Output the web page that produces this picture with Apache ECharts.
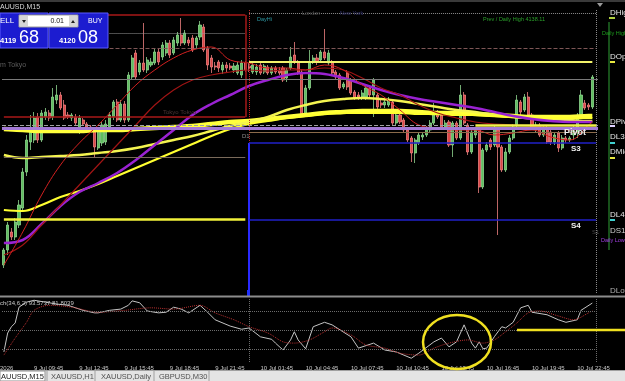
<!DOCTYPE html>
<html>
<head>
<meta charset="utf-8">
<script src="https://cdn.jsdelivr.net/npm/echarts@6/dist/echarts.min.js"></script>
<style>
html, body { margin: 0; padding: 0; background: #000; }
#chart { width: 625px; height: 381px; }
</style>
</head>
<body>
<div id="chart"></div>
<script>
// XAUUSD M15, 9 Jul 07:45 -> 10 Jul 23:45
const pad = n => (n < 10 ? '0' : '') + n;
const hhmm = m => pad(Math.floor(m / 60)) + ':' + pad(m % 60);
const categories = [];
for (let m = 7 * 60 + 45; m <= 23 * 60 + 45; m += 15) categories.push('9 Jul ' + hhmm(m));
for (let m = 60; m <= 23 * 60 + 45; m += 15) categories.push('10 Jul ' + hhmm(m));
categories.push('');

const priceMin = 4068.25;
const priceMax = 4139;

// [open, close, low, high]
const candles = [
  [4075.25,4079,4074.5,4079.5],[4079,4085.25,4077.75,4086],[4083.5,4082.25,4081.5,4084.5],[4082.25,4086,4081.5,4087],
  [4085.25,4090.25,4084.5,4091.5],[4089.5,4098.5,4088.5,4099.5],[4098.5,4106.5,4097.5,4107.75],[4106,4109.5,4104,4112.75],
  [4106.5,4112,4105.75,4113.5],[4112.25,4106.5,4105.75,4113.25],[4106.5,4113.25,4106,4114],[4112.25,4113.5,4111.5,4114.5],
  [4113.25,4112,4111.25,4114],[4112.25,4117.25,4111.5,4119.5],[4116.5,4117.75,4115.5,4120.25],[4117.75,4114.5,4114,4118.5],
  [4115.25,4112,4111.5,4116.5],[4112.75,4112.25,4111.75,4113.5],[4112,4112.75,4111.25,4113.25],[4112.25,4110.75,4110,4113],
  [4108.5,4112,4108,4112.75],[4111.5,4110.5,4110,4112],[4110.5,4109.75,4109,4111],[4109.75,4108.75,4108.25,4110.25],
  [4108.75,4104.75,4102.25,4109.25],[4104.5,4109,4104,4109.75],[4105.75,4110.25,4105,4111],[4106,4110.5,4105.25,4111.5],
  [4109.75,4112.75,4109,4113.5],[4112.25,4116,4111.5,4116.5],[4116,4111.5,4111,4116.75],[4111.5,4115.5,4111,4116.5],
  [4115.5,4111.5,4110.75,4116.25],[4111.5,4122.75,4111,4123.5],[4122.25,4127,4121.5,4127.75],[4128.25,4122.25,4121.5,4129],
  [4123.5,4125.75,4122.75,4126.5],[4125.75,4124,4123.5,4135.75],[4124,4126.5,4123.25,4127.25],[4125.25,4126,4124.75,4127],
  [4125.75,4128.5,4125.25,4129.5],[4128.5,4126,4125.25,4129.25],[4127.25,4130.25,4126.5,4131],[4128.25,4130.75,4127.5,4131.5],
  [4130.75,4127.75,4127,4131.5],[4128.25,4131.5,4127.75,4132.25],[4130.75,4132.75,4130,4133.5],[4132.75,4130.75,4130,4137],
  [4130.75,4133.25,4130.25,4134],[4131.5,4130.75,4130,4132.25],[4132,4129,4128.5,4132.75],[4130.25,4132,4129.5,4132.5],
  [4132.25,4135.25,4131.5,4136.25],[4134.75,4129,4128.5,4135.5],[4129.5,4125.25,4124,4130],[4127,4124.75,4123.25,4127.75],
  [4125,4124.75,4124,4126],[4126,4124.5,4123.5,4126.5],[4124,4125.25,4123,4126],[4125.25,4124.5,4123.5,4126],
  [4125,4124.5,4124,4125.75],[4124,4125,4123.25,4125.75],[4123.25,4125.25,4122.75,4126],[4122.75,4125.75,4122,4126.5],
  [4125.75,4124,4123.5,4126.25],
  [4125,4124.5,4123.5,4125.75],[4123.5,4125.25,4123,4125.75],[4123.5,4124.75,4122.75,4125.5],[4125.25,4123.25,4122.75,4125.75],
  [4123.5,4125,4123,4125.5],[4124.75,4123.25,4122.75,4125.25],[4123.25,4124.5,4122.75,4125],[4124.5,4123.5,4123,4125],
  [4124,4123.25,4122.75,4124.75],[4124.5,4121.5,4121,4125],[4122,4124,4121,4124.5],[4124.5,4127.25,4124,4129.75],
  [4127.75,4126,4125.5,4131],[4126,4123.25,4122.75,4126.5],[4123.5,4112.75,4112.25,4124],[4112.75,4119.5,4112.25,4120.25],
  [4119.5,4126,4119,4129],[4126,4127,4125.5,4127.75],[4127,4126,4125.25,4128],[4126.5,4128.5,4126,4129],
  [4128.5,4127,4126.5,4134.25],[4125.75,4128.25,4125.25,4129],[4126,4123.25,4122.75,4126.5],[4123.5,4122.25,4121.5,4124],
  [4122.75,4119.5,4119,4123.25],[4119.75,4120.5,4119.25,4121],[4123.25,4119.75,4119,4124],[4121.5,4118.25,4117.75,4122],
  [4118.5,4117,4116.5,4119],[4117.75,4117.25,4116.5,4118.5],[4117.25,4118.25,4116.5,4119],[4117.25,4119.5,4116.5,4120.25],
  [4119.5,4117.75,4117,4120],[4117.75,4121.5,4112.25,4122],[4117.75,4114.75,4114,4118.25],[4115.75,4115.25,4114.5,4116.5],
  [4115.25,4116,4114.5,4116.75],[4115.25,4116.5,4114.75,4117.25],[4116,4110.75,4110.25,4116.5],[4110.75,4112.75,4110.25,4113.5],
  [4112.75,4111,4110.5,4113.5],[4111.5,4109,4108.5,4112],[4109,4106.5,4106,4109.5],[4107,4103.25,4101,4107.5],
  [4103.25,4106.5,4100.75,4107],[4105.75,4107.75,4105.25,4108.25],[4107.25,4107.75,4106.5,4108.25],[4107.75,4109.5,4107.25,4110],
  [4109,4110.75,4108.5,4111.5],[4110.75,4113.25,4110.25,4115.75],[4113.25,4112.25,4111.75,4114],[4112.75,4109.75,4109.25,4113.25],
  [4109.75,4110.75,4109,4111.5],[4111,4105.25,4104.75,4111.5],[4105.25,4110.75,4102.25,4111.25],[4110.75,4107,4106.5,4111.25],
  [4107,4117.75,4106.5,4120.25],[4117.75,4110.75,4110.25,4118.5],[4110.25,4103.5,4102.75,4110.75],[4103.5,4108.5,4103,4109],
  [4107.75,4109,4107,4109.75],[4109,4094.75,4093.25,4109.5],[4094.75,4104,4094.25,4104.5],[4104,4105.25,4103.5,4106],
  [4106.5,4104.75,4104,4107],[4105.25,4109.5,4104.75,4110.25],[4109,4104.75,4082.75,4109.5],[4104.75,4099,4098.5,4105.25],
  [4099,4103.5,4098.5,4104.5],[4103.5,4107,4103,4107.75],[4107,4109.75,4106.5,4110.5],[4110.25,4116.5,4109.75,4117.75],
  [4116,4113.5,4112.75,4116.5],[4114,4117.25,4113.5,4118],[4117.25,4112.75,4112.25,4118.5],[4112.75,4109.5,4109,4113.25],
  [4109,4110.25,4108.5,4111],[4110.25,4107.75,4107.25,4110.75],[4107.75,4109.5,4107.25,4110.25],[4109.5,4106,4105.5,4110],
  [4108.5,4106,4105.25,4109],[4106,4107.75,4105.25,4108.5],[4108.25,4104.5,4103.5,4108.75],[4104.5,4107,4104,4107.75],
  [4107,4106.5,4105.75,4107.5],[4106.5,4107,4106,4107.5],[4107.75,4109.5,4106.5,4110.25],[4108.5,4112.75,4107,4113.25],
  [4112.75,4117.75,4112.25,4119],[4115.75,4114.5,4114,4116.5],[4115.25,4114.75,4114,4115.75],[4114.75,4122.25,4114.25,4122.75]
];

// moving averages, read every 5 bars
const maIdx = [0,5,10,15,20,25,30,35,40,45,50,55,60,65,70,75,80,85,90,95,100,105,110,115,120,125,130,135,140,145,150,155,156];
const maYellowThick = [4109.25,4109,4108.75,4108.75,4108.75,4109,4109,4109.25,4109.5,4109.75,4110,4110.5,4111,4111.25,4111.75,4112.25,4112.75,4113.25,4113.5,4113.75,4113.75,4113.75,4113.5,4113.25,4113.25,4113,4112.75,4112.5,4112.25,4112.25,4112.25,4112.5,4112.5];
const maYellowMid = [4102.75,4102,4102.25,4102.5,4102.75,4103.25,4103.75,4104.5,4105.5,4106.5,4107.5,4108.75,4110,4111,4112.25,4114,4115.25,4116.25,4116.75,4117,4116.75,4116.25,4115.5,4114.75,4114,4113.5,4112.75,4112.25,4112,4111.75,4111.5,4111.25,4111.25];
const maYellowThin = [4089,4088.75,4090.25,4092.25,4093.75,4095.5,4097.5,4099.5,4101.5,4103.5,4105.5,4107.5,4109.25,4110.5,4111.25,4112,4112.5,4113,4113.25,4113.25,4113.25,4113.25,4113,4113,4112.75,4112.75,4112.5,4112.25,4112,4112,4112,4112,4112];
const maPurple = [4080.75,4081.5,4085.5,4090,4093.5,4095.75,4098.25,4101.5,4105.25,4109,4112.75,4115.5,4117.75,4120,4121.5,4122.75,4123.25,4123,4122,4120.5,4119,4117.75,4116.75,4116,4115.25,4114.5,4113.5,4112.5,4111.75,4111.25,4111,4111,4111];
const maRedFast = [4075.25,4083.5,4092.75,4100.25,4105.75,4110.25,4115.25,4120.25,4124,4127,4129,4129.75,4126.5,4125.75,4124.5,4124.5,4124,4125.25,4124,4120.25,4117.75,4114,4110.25,4109.5,4109,4109,4107.75,4108.25,4109,4107.25,4106.5,4110.25,4111];
const maRedSlow = [4077.75,4080.25,4085.25,4090.25,4095.25,4100.25,4105.25,4110.25,4115.25,4119,4121.5,4122.75,4123.5,4124,4123.75,4124,4124,4124.5,4124,4122,4119.5,4117.75,4115.25,4113.25,4112,4111,4110.5,4110.25,4110,4109.5,4109,4109.5,4109.75];

// stochastic (34,6,2): [bar, value]
const stochMain = [[0,16],[1,46],[2,56],[3,62],[4,87],[6,95],[8,98],[11,95],[14,92],[17,90],[21,82],[24,78],[25,78],[28,82],[31,84],[33,90],[34,97],[36,94],[38,81],[41,78],[43,79],[45,87],[47,84],[49,78],[52,90],[54,79],[56,67],[60,57],[63,52],[65,54],[68,40],[71,36],[72,30],[74,19],[76,35],[77,48],[78,35],[80,21],[82,56],[85,63],[87,59],[92,40],[94,22],[98,30],[101,19],[104,16],[108,6],[110,14],[114,32],[116,38],[118,24],[120,32],[122,59],[124,30],[125,22],[126,32],[127,21],[128,22],[130,40],[132,56],[133,54],[135,63],[137,86],[139,90],[140,79],[144,75],[147,67],[149,63],[152,67],[153,82],[156,93.57]];
const stochSignal = [[0,11],[3,38],[6,63],[8,82],[12,90],[18,87],[25,79],[32,82],[39,86],[45,84],[52,90],[56,78],[61,67],[65,56],[70,46],[74,32],[77,30],[81,35],[85,48],[87,54],[92,43],[96,27],[101,22],[105,14],[110,11],[114,22],[118,30],[123,35],[127,30],[130,35],[133,48],[136,62],[139,78],[142,81],[147,73],[151,67],[155,78],[156,81.8]];

// daily levels
const prevDayHigh = 4138.11;
const tokyoHigh = 4137.75, tokyoLow = 4112.25;
const lvlUpper = 4133.25, lvlDash = 4129.5;
const dayOpen = 4126, lvlGray = 4121.75;
const dayPivot = 4110.25, pivotBand = 4109.5, lvlTan = 4108.5;
const lvlS3 = 4105.75, lvlMidPrev = 4102.25;
const lvlYellowPrev = 4086.75, lvlS4 = 4086.5;

const xLabelIdx = i => i >= 8 && (i - 8) % 12 === 0;
const pairs = vals => vals.map((v, k) => [maIdx[k], v]);
const F = '"Liberation Sans", Arial, sans-serif';

const seg = (x1, x2, y, style) => [{ coord: [x1, y], lineStyle: style }, { coord: [x2, y] }];
const tokyoStyle = { color: '#a81818', type: 'solid', width: 1.5 };

const maLine = (name, vals, color, width) => ({
  name, type: 'line', xAxisIndex: 0, yAxisIndex: 0, data: pairs(vals),
  showSymbol: false, smooth: 0.4, silent: true, z: 4,
  lineStyle: { color, width }
});

const txt = (text, x, y, fill, size, extra) => Object.assign({
  type: 'text', x, y, z: 100, silent: true,
  style: { text, fill, font: size + 'px ' + F, verticalAlign: 'middle', textVerticalAlign: 'middle' }
}, extra || {});
const rect = (x, y, w, h, fill, stroke) => ({
  type: 'rect', z: 90, silent: true, shape: { x, y, width: w, height: h },
  style: { fill, stroke: stroke || null, lineWidth: 1 }
});
const hline = (x1, y1, x2, y2, stroke, w, dash) => ({
  type: 'line', z: 95, silent: true, shape: { x1, y1, x2, y2 },
  style: { stroke, lineWidth: w, lineDash: dash || null }
});

const chart = echarts.init(document.getElementById('chart'));
chart.setOption({
  backgroundColor: '#000',
  animation: false,
  grid: [
    { left: 2, right: 27, top: 10, height: 283 },
    { left: 2, right: 27, top: 299, height: 63 }
  ],
  xAxis: [
    { type: 'category', gridIndex: 0, data: categories, axisLine: { show: false }, axisTick: { show: false }, axisLabel: { show: false }, splitLine: { show: false } },
    { type: 'category', gridIndex: 1, data: categories, axisLine: { show: false }, axisTick: { show: false }, splitLine: { show: false },
      axisLabel: { interval: xLabelIdx, align: 'left', color: '#c8c8c8', fontSize: 6, fontFamily: 'Liberation Sans', margin: 3 } }
  ],
  yAxis: [
    { type: 'value', gridIndex: 0, min: priceMin, max: priceMax, show: false, splitLine: { show: false } },
    { type: 'value', gridIndex: 1, min: 0, max: 100, show: false, splitLine: { show: false } }
  ],
  series: [
    {
      name: 'XAUUSD', type: 'candlestick', xAxisIndex: 0, yAxisIndex: 0, data: candles, barWidth: 2.6, silent: true, z: 3,
      itemStyle: { color: '#5fbf5f', color0: '#dc4646', borderColor: '#8fd68f', borderColor0: '#ee8080', borderWidth: 0.8 },
      markLine: {
        silent: true, symbol: ['none', 'none'], label: { show: false }, animation: false,
        lineStyle: { color: '#888', width: 1, type: 'solid' },
        data: [
          { xAxis: 157, lineStyle: { color: '#8a8a8a', type: 'dotted', width: 1 } },
          // Tokyo session box (left edge is off screen)
          seg(0, 64, tokyoHigh, tokyoStyle),
          seg(0, 64, tokyoLow, tokyoStyle),
          [{ coord: [64, tokyoHigh], lineStyle: tokyoStyle }, { coord: [64, tokyoLow] }],
          [{ coord: [65, priceMax], lineStyle: { color: '#c02424', type: 'dotted', width: 1 } }, { coord: [65, lvlS3] }],
          [{ coord: [65, lvlS3], lineStyle: { color: '#2a2aff', type: 'solid', width: 2 } }, { coord: [65, priceMin] }],
          seg(65, 157, prevDayHigh, { color: '#8c8c8c', type: 'dotted', width: 1 }),
          seg(28, 64, lvlUpper, { color: '#9a9a9a', type: 'dotted', width: 1 }),
          seg(28, 157, lvlDash, { color: '#7e5656', type: 'dashed', width: 1 }),
          seg(65, 156, dayOpen, { color: '#f2f26a', type: 'solid', width: 2 }),
          { yAxis: lvlGray, lineStyle: { color: '#7a7a7a', type: 'solid', width: 1 } },
          { yAxis: pivotBand, lineStyle: { color: '#a47ad6', type: 'solid', width: 3 } },
          { yAxis: dayPivot, lineStyle: { color: '#a0a0a0', type: 'dashed', width: 1 } },
          seg(125, 157, dayPivot, { color: '#f2f24a', type: 'solid', width: 2.5 }),
          seg(65, 157, lvlTan, { color: '#8a6a4a', type: 'solid', width: 1 }),
          seg(65, 157, lvlS3, { color: '#2020c8', type: 'solid', width: 1.5 }),
          seg(0, 64, lvlMidPrev, { color: '#7a6a5a', type: 'solid', width: 1 }),
          seg(0, 64, lvlYellowPrev, { color: '#f2f23a', type: 'solid', width: 2.5 }),
          seg(65, 157, lvlS4, { color: '#2020c8', type: 'solid', width: 1.5 })
        ]
      }
    },
    maLine('MA thick', maYellowThick, '#ffff3c', 4.5),
    maLine('MA mid', maYellowMid, '#f4f450', 2.5),
    maLine('MA thin', maYellowThin, '#ffff30', 2.2),
    maLine('MA purple', maPurple, '#9a22d2', 2.5),
    maLine('MA red slow', maRedSlow, '#a01414', 1.2),
    maLine('MA red fast', maRedFast, '#d22020', 1),
    {
      name: 'Stoch', type: 'line', xAxisIndex: 1, yAxisIndex: 1, data: stochMain, showSymbol: false, silent: true,
      lineStyle: { color: '#c4c4c4', width: 1 },
      markLine: {
        silent: true, symbol: ['none', 'none'], label: { show: false },
        lineStyle: { color: '#6c6c6c', type: 'dotted', width: 1 },
        data: [{ yAxis: 80 }, { yAxis: 50 }, { yAxis: 20 }, { xAxis: 65 }, { xAxis: 157 }]
      }
    },
    {
      name: 'Signal', type: 'line', xAxisIndex: 1, yAxisIndex: 1, data: stochSignal, showSymbol: false, silent: true, smooth: 0.3,
      lineStyle: { color: '#b83030', width: 1, type: 'dotted' }
    }
  ],
  graphic: [
    rect(0, 0, 625, 2, '#3a3a3a'),
    txt('AUUSD,M15', 0, 7, '#d8d8d8', 7),
    { type: 'polygon', z: 95, silent: true, shape: { points: [[597, 3], [603, 3], [600, 7]] }, style: { fill: '#9a9a9a' } },
    // one-click trading panel
    rect(0, 13, 48, 35, '#1c1cd0', '#5a5aff'),
    rect(49, 13, 59, 35, '#1c1cd0', '#5a5aff'),
    rect(19, 15, 59, 12, '#ffffff', '#9a9a9a'),
    rect(20, 16, 8, 10, '#d6d6d6'),
    rect(69, 16, 8, 10, '#d6d6d6'),
    { type: 'polygon', z: 96, silent: true, shape: { points: [[22, 20], [26, 20], [24, 23]] }, style: { fill: '#202020' } },
    { type: 'polygon', z: 96, silent: true, shape: { points: [[71, 23], [75, 23], [73, 20]] }, style: { fill: '#202020' } },
    txt('0.01', 64, 21.5, '#101010', 7, { style: { text: '0.01', fill: '#101010', font: '7px ' + F, align: 'right', textAlign: 'right', verticalAlign: 'middle', textVerticalAlign: 'middle' } }),
    txt('ELL', 0, 21, '#ffffff', 8),
    txt('BUY', 88, 21, '#ffffff', 7),
    txt('4119', 0, 41, '#ffffff', 0, { style: { text: '4119', fill: '#fff', font: 'bold 7.5px ' + F, verticalAlign: 'middle', textVerticalAlign: 'middle' } }),
    txt('68', 19, 38, '#ffffff', 18),
    txt('4120', 59, 41, '#ffffff', 0, { style: { text: '4120', fill: '#fff', font: 'bold 7.5px ' + F, verticalAlign: 'middle', textVerticalAlign: 'middle' } }),
    txt('08', 78, 38, '#ffffff', 18),
    // in-chart texts
    txt('m Tokyo', 0, 65, '#5e5e5e', 7),
    txt('Tokyo Tokyo', 163, 112, '#4a3434', 6),
    txt('London', 302, 13, '#4e4e4e', 5.5),
    txt('New York', 340, 13, '#34346e', 5.5),
    txt('DayHi', 257, 19, '#2e9aa6', 5.5),
    txt('Prev / Daily High 4138.11', 483, 19, '#2aa02a', 5.5),
    txt('D1', 242, 136, '#909090', 6),
    txt('Pivot', 564, 133, '#f0f0f0', 0, { style: { text: 'Pivot', fill: '#f0f0f0', font: 'bold 9px ' + F, verticalAlign: 'middle', textVerticalAlign: 'middle' } }),
    txt('S3', 571, 149, '#f0f0f0', 0, { style: { text: 'S3', fill: '#f0f0f0', font: 'bold 8px ' + F, verticalAlign: 'middle', textVerticalAlign: 'middle' } }),
    txt('S4', 571, 226, '#f0f0f0', 0, { style: { text: 'S4', fill: '#f0f0f0', font: 'bold 8px ' + F, verticalAlign: 'middle', textVerticalAlign: 'middle' } }),
    txt('S1', 592, 232, '#4a4a4a', 6),
    // right side level labels
    hline(609, 22, 609, 250, '#17501a', 2),
    txt('DHigh', 610, 13, '#e6e6e6', 8),
    rect(609, 17, 6, 2, '#b0d040'),
    txt('Daily High', 602, 33, '#1e9e1e', 5.5),
    txt('DOpen', 610, 57, '#e6e6e6', 8),
    rect(609, 61, 6, 2, '#e8e840'),
    txt('DPivot', 610, 122, '#e6e6e6', 8),
    rect(609, 125, 6, 2, '#e0d0ff'),
    txt('DL3', 610, 137, '#e6e6e6', 8),
    rect(609, 142, 6, 2, '#40d0d0'),
    txt('DMid', 610, 152, '#e6e6e6', 8),
    rect(609, 157, 6, 2, '#e8e840'),
    txt('DL4', 610, 215, '#e6e6e6', 8),
    rect(609, 219, 6, 2, '#40d0d0'),
    txt('DS1', 610, 231, '#d0d0d0', 8),
    txt('Daily Low', 601, 240, '#a040e0', 5.5),
    txt('DLow', 610, 291, '#b0b0b0', 8),
    // panel separator and stochastic header
    hline(0, 296.5, 625, 296.5, '#8c8c8c', 2),
    rect(247, 290, 3, 7, '#2030ff'),
    txt('ch(34,6,2) 93.5737 81.8039', 0, 303, '#c8c8c8', 6),
    // annotations
    hline(517, 330, 625, 330, '#f0e020', 2.5),
    { type: 'ellipse', z: 96, silent: true, shape: { cx: 457, cy: 342, rx: 34, ry: 27 }, style: { fill: null, stroke: '#f0e020', lineWidth: 2.5 } },
    txt('2026', 0, 368, '#c8c8c8', 6),
    // tabs
    rect(0, 370, 625, 11, '#e4e4e4'),
    hline(0, 370.5, 625, 370.5, '#a0a0a0', 1),
    rect(0, 371, 45, 10, '#ffffff', '#909090'),
    hline(47, 371, 47, 381, '#a0a0a0', 1),
    hline(95, 371, 95, 381, '#a0a0a0', 1),
    hline(154, 371, 154, 381, '#a0a0a0', 1),
    hline(209, 371, 209, 381, '#a0a0a0', 1),
    txt('AUUSD,M15', 1, 376.5, '#202020', 7.5),
    txt('XAUUSD,H1', 51, 376.5, '#505050', 7.5),
    txt('XAUUSD,Daily', 101, 376.5, '#505050', 7.5),
    txt('GBPUSD,M30', 159, 376.5, '#505050', 7.5)
  ]
});
</script>
</body>
</html>
